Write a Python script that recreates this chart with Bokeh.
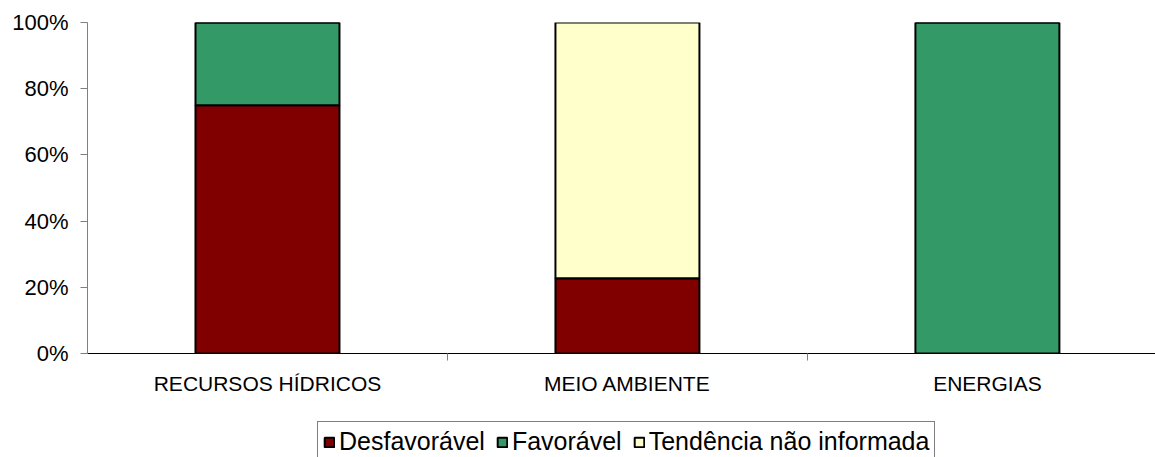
from bokeh.plotting import figure
from bokeh.layouts import column
from bokeh.models import (ColumnDataSource, FixedTicker, Legend, LegendItem,
                          PrintfTickFormatter, Range1d)
from bokeh.embed import file_html
from bokeh.resources import INLINE

# ---- data ----
categories = ["RECURSOS HÍDRICOS", "MEIO AMBIENTE", "ENERGIAS"]
series_names = ["Desfavorável", "Favorável", "Tendência não informada"]
desfavoravel = [75.0, 22.7, 0.0]
favoravel = [25.0, 0.0, 100.0]
tendencia = [0.0, 77.3, 0.0]
colors = ["#800000", "#339966", "#FFFFCC"]
y_ticks = [0, 20, 40, 60, 80, 100]

FONT = "Liberation Sans"

xs = list(range(len(categories)))
source = ColumnDataSource(dict(x=xs, Desfavoravel=desfavoravel,
                               Favoravel=favoravel, Tendencia=tendencia))
stack_cols = ["Desfavoravel", "Favoravel", "Tendencia"]

p = figure(width=1155, height=410, output_backend="svg", toolbar_location=None,
           x_range=Range1d(-0.5, 2.467), y_range=Range1d(0, 100))
p.min_border_left = 87
p.min_border_right = 0
p.min_border_top = 22
p.min_border_bottom = 57
p.outline_line_color = None
p.xgrid.grid_line_color = None
p.ygrid.grid_line_color = None
p.background_fill_color = "white"
p.border_fill_color = "white"

p.vbar_stack(stack_cols, x="x", width=0.4, source=source, fill_color=colors,
             line_color="black", line_width=2)

# y axis
p.yaxis.ticker = FixedTicker(ticks=y_ticks)
p.yaxis.formatter = PrintfTickFormatter(format="%d%%")
p.yaxis.axis_line_color = "#808080"
p.yaxis.major_tick_line_color = "#808080"
p.yaxis.major_tick_out = 7
p.yaxis.major_tick_in = 0
p.yaxis.minor_tick_line_color = None
p.yaxis.major_label_text_font = FONT
p.yaxis.major_label_text_font_size = "22px"
p.yaxis.major_label_text_color = "black"
p.yaxis.major_label_standoff = 12

# x axis
p.xaxis.ticker = FixedTicker(ticks=xs, minor_ticks=[0.5, 1.5])
p.xaxis.major_label_overrides = {i: c for i, c in enumerate(categories)}
p.xaxis.axis_line_color = "black"
p.xaxis.major_tick_line_color = None
p.xaxis.major_tick_out = 0
p.xaxis.major_tick_in = 0
p.xaxis.minor_tick_line_color = "#808080"
p.xaxis.minor_tick_out = 7
p.xaxis.minor_tick_in = 0
p.xaxis.major_label_text_font = FONT
p.xaxis.major_label_text_font_size = "21px"
p.xaxis.major_label_text_color = "black"
p.xaxis.major_label_standoff = 11

# ---- legend strip (separate figure under the chart) ----
lg = figure(width=1155, height=47, output_backend="svg", toolbar_location=None,
            x_range=Range1d(-0.5, 2.467), y_range=Range1d(0, 100),
            x_axis_location=None, y_axis_location=None)
lg.min_border = 0
lg.outline_line_color = None
lg.grid.visible = False
lg.background_fill_color = "white"
lg.border_fill_color = "white"

# same stacked series, hidden in this strip: only used for legend swatches
legend_renderers = lg.vbar_stack(stack_cols, x="x", width=0.4, source=source,
                                 fill_color=colors, line_color="black", line_width=2)
for r in legend_renderers:
    r.visible = False

legend = Legend(items=[LegendItem(label=n, renderers=[r])
                       for n, r in zip(series_names, legend_renderers)],
                orientation="horizontal", location=(230, -5))
legend.label_text_font = FONT
legend.label_text_font_size = "25px"
legend.label_text_color = "black"
legend.glyph_width = 12
legend.glyph_height = 12
legend.label_standoff = 4
legend.spacing = 11
legend.padding = 5
legend.margin = 0
legend.border_line_color = "black"
legend.border_line_width = 1
legend.background_fill_alpha = 1
legend.inactive_fill_alpha = 0
lg.add_layout(legend, "center")

layout = column(p, lg, spacing=0)
open("out.html", "w").write(file_html(layout, INLINE))
